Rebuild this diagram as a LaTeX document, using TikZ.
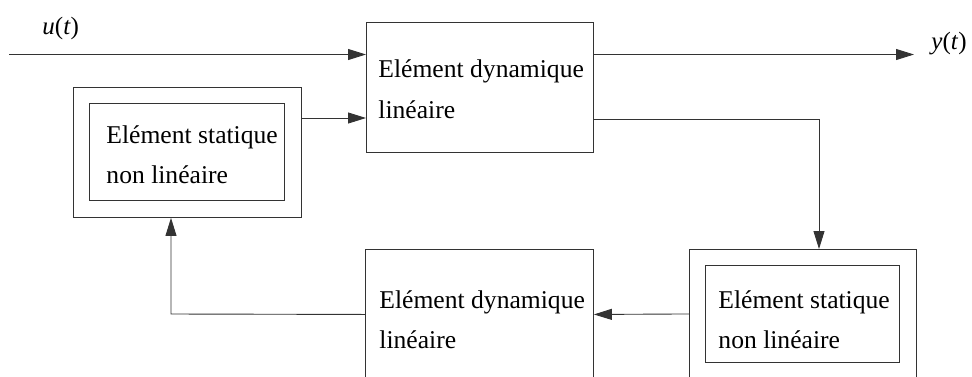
\documentclass[tikz,border=0pt]{standalone}
\usepackage{fontspec}
\setmainfont{Liberation Serif}
\newfontfamily\tms{Liberation Serif}
\usetikzlibrary{arrows.meta,calc}
\begin{document}
\begin{tikzpicture}[x=1pt,y=-1pt,
  line width=0.9pt,
  box/.style={draw=black!80, line width=0.9pt, rectangle, anchor=north west, inner sep=0pt},
  txt/.style={anchor=base west, inner sep=0pt, font=\tms\fontsize{25.6}{30}\selectfont},
  lbl/.style={anchor=base west, inner sep=0pt, font=\tms\fontsize{25}{30}\selectfont},
  conn/.style={draw=black!80, line width=0.9pt},
  arr/.style={conn, -{Triangle[length=18pt,width=11pt]}}]
\useasboundingbox (0,0) rectangle (972,376);
\clip (0,0) rectangle (972,376);
% boxes
\node[box, minimum width=227pt, minimum height=130pt] (b1) at (366,22) {};
\node[box, minimum width=228pt, minimum height=130pt] (s1o) at (73,87) {};
\node[box, minimum width=195pt, minimum height=97pt] (s1i) at (89,103) {};
\node[box, minimum width=228pt, minimum height=130pt] (b2) at (365,249) {};
\node[box, minimum width=227pt, minimum height=129pt] (s2o) at (689,249) {};
\node[box, minimum width=194pt, minimum height=97pt] (s2i) at (705,265) {};
% texts
\node[txt] (t1a) at (378,77) {Elément dynamique};
\node[txt] (t1b) at (378,118) {linéaire};
\node[txt] (t2a) at (106,143) {Elément statique};
\node[txt] (t2b) at (106,183) {non linéaire};
\node[txt] (t3a) at (379,308) {Elément dynamique};
\node[txt] (t3b) at (379,348) {linéaire};
\node[txt] (t4a) at (718,308) {Elément statique};
\node[txt] (t4b) at (718,348) {non linéaire};
\node[lbl] (u) at (42,34) {\textit{u}(\textit{t})};
\node[lbl] (y) at (931,49) {\textit{y}(\textit{t})};
% coordinates
\coordinate (uin) at (9,54.5);
\coordinate (yout) at (914,54.5);
\coordinate (in2) at (0,118);
\coordinate (out2) at (0,119.5);
\coordinate (c1) at (819,119.5);
\coordinate (c2) at (171,314);
% connectors
\draw[arr] (uin) -- (uin -| b1.west);
\draw[arr] (s1o.east |- in2) -- (b1.west |- in2);
\draw[arr] (b1.east |- yout) -- (yout);
\draw[arr] (b1.east |- out2) -- (c1) -- (c1 |- s2o.north);
\draw[arr] (s2o.west) -- (b2.east);
\draw[arr] (b2.west) -- (c2) -- (c2 |- s1o.south);
\end{tikzpicture}
\end{document}
